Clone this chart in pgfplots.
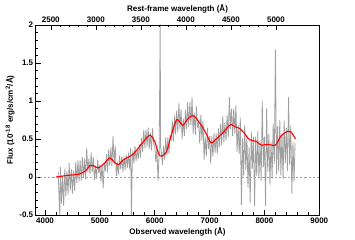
\documentclass[border=0pt]{standalone}
\usepackage{pgfplots}
\pgfplotsset{compat=1.18}
\usepackage{fontspec}
\setmainfont{Liberation Sans}
\definecolor{specgray}{RGB}{160,160,160}
\begin{document}
\begin{tikzpicture}[font=\fontsize{8}{9.6}\selectfont\bfseries]
\begin{axis}[name=main, scale only axis, width=283.6pt, height=190pt,
  xmin=3830, xmax=9000, ymin=-0.5, ymax=2,
  xtick={4000,5000,...,9000}, ytick={-0.5,0,0.5,1,1.5,2},
  minor x tick num=4, minor y tick num=4,
  xtick pos=bottom, ytick pos=left, tick align=inside,
  major tick length=5pt, minor tick length=2.5pt,
  every tick/.style={black, line width=0.5pt},
  axis line style={line width=0.7pt},
  /pgf/number format/assume math mode=true, /pgf/number format/1000 sep={},
  xlabel={Observed wavelength (Å)},
  ylabel={Flux (10\textsuperscript{-18} erg/s/cm\textsuperscript{2}/Å)},
  xlabel style={yshift=3pt}, ylabel style={yshift=-2pt},
  xticklabel style={yshift=1pt}, yticklabel style={xshift=1pt},
  clip=true]
\addplot[specgray, dash pattern=on 2.2pt off 2pt, line width=0.4pt] coordinates {(3830,0) (9000,0)};
\addplot[specgray, line width=0.8pt, line join=bevel] coordinates {
(4240,0.07) (4260,-0.35) (4270,-0.5) (4280,0.13) (4300,-0.35) (4320,0.01) (4340,-0.38) (4360,0.11) (4380,-0.25)
(4400,0.08) (4420,-0.23) (4440,0.19) (4460,-0.18) (4480,0.10)
(4500,-0.22) (4520,0.08) (4540,-0.18) (4560,0.20) (4580,-0.08)
(4600,0.22) (4620,-0.06) (4640,0.22) (4660,-0.05) (4680,0.26)
(4700,-0.01) (4720,0.24) (4740,-0.03) (4760,0.38) (4780,0.06)
(4800,0.24) (4820,0.03) (4840,0.32) (4860,0.06) (4880,0.26)
(4900,-0.04) (4920,0.15) (4940,-0.02) (4960,0.23) (4980,0.05)
(5000,0.16) (5020,-0.06) (5040,0.16) (5060,-0.15) (5080,0.19)
(5100,0.08) (5120,0.30) (5140,0.06) (5160,0.36) (5180,0.14)
(5200,0.39) (5220,0.14) (5240,0.54) (5260,0.17) (5280,0.41)
(5300,0.01) (5320,0.20) (5340,0.03) (5360,0.28) (5380,0.10)
(5400,0.27) (5420,0.07) (5440,0.27) (5460,0.09) (5480,0.29)
(5500,0.12) (5520,0.32) (5540,0.11) (5560,0.38) (5576,-0.5) (5590,0.2)
(5600,0.35) (5620,0.18) (5640,0.41) (5660,0.21) (5680,0.36)
(5700,0.24) (5720,0.43) (5740,0.26) (5760,0.51) (5780,0.33)
(5800,0.62) (5820,0.38) (5840,0.62) (5860,0.40) (5880,0.65)
(5900,0.37) (5920,0.58) (5940,0.35) (5960,0.64) (5980,0.43)
(6000,0.42) (6020,0.20) (6040,0.38) (6060,-0.05) (6080,0.30)
(6100,2.05) (6106,0.4) (6120,0.33) (6140,0.16) (6160,0.41) (6180,0.23)
(6200,0.52) (6220,0.28) (6240,0.52) (6260,0.30) (6280,0.55)
(6300,0.49) (6320,0.74) (6340,0.47) (6360,0.81) (6380,0.56)
(6400,0.87) (6420,0.59) (6440,0.97) (6460,0.63) (6480,0.89)
(6500,0.50) (6520,0.77) (6540,0.54) (6560,0.88) (6580,0.63)
(6600,0.98) (6620,0.66) (6640,0.98) (6660,0.68) (6680,1.05)
(6700,0.57) (6720,0.85) (6740,0.55) (6760,0.93) (6780,0.65)
(6800,0.72) (6820,0.44) (6840,0.82) (6860,0.48) (6880,0.74)
(6900,0.23) (6920,0.53) (6940,0.27) (6960,0.65) (6980,0.37)
(7000,0.54) (7020,0.18) (7040,0.54) (7060,0.27) (7080,0.58)
(7100,0.32) (7120,0.57) (7140,0.30) (7160,0.64) (7180,0.39)
(7200,0.70) (7220,0.42) (7240,0.80) (7260,0.46) (7280,0.72)
(7300,0.48) (7320,0.81) (7340,0.52) (7360,1.05) (7380,0.63)
(7400,0.90) (7420,0.54) (7440,0.90) (7460,0.57) (7480,0.94)
(7500,0.33) (7520,0.68) (7540,0.30) (7560,0.78) (7580,-0.37)
(7600,0.51) (7620,0.02) (7640,0.69) (7660,0.09) (7680,0.55)
(7700,-0.14) (7720,0.39) (7740,-0.34) (7760,0.60) (7780,0.11)
(7800,0.53) (7820,-0.38) (7840,0.53) (7860,0.01) (7880,0.60)
(7900,-0.02) (7920,0.48) (7940,-0.05) (7960,1.00) (7980,0.13)
(8000,0.53) (8020,-0.38) (8040,0.90) (8060,0.07) (8080,0.57)
(8100,-0.10) (8120,0.47) (8140,-0.02) (8160,0.70) (8180,0.17)
(8200,1.68) (8220,0.03) (8240,0.67) (8260,0.07) (8280,0.75)
(8300,0.02) (8320,0.58) (8340,-0.02) (8360,0.74) (8380,0.18)
(8400,0.64) (8420,0.08) (8440,1.05) (8460,0.16) (8480,0.68)
(8500,-0.22) (8520,0.46) (8540,-0.06) (8558,0.45)
};
\addplot[red, line width=1.1pt, smooth, tension=0.5] coordinates {
(4200,0.00) (4400,0.02) (4636,0.04) (4750,0.09) (4818,0.15) (4880,0.15)
(4970,0.12) (5080,0.18) (5180,0.25) (5260,0.20) (5333,0.16) (5420,0.22)
(5515,0.26) (5606,0.30) (5700,0.38) (5800,0.47) (5909,0.55) (6000,0.47)
(6090,0.28) (6212,0.33) (6300,0.55) (6394,0.75) (6460,0.72) (6515,0.68)
(6600,0.76) (6685,0.81) (6760,0.77) (6818,0.71) (6879,0.65) (6950,0.55)
(7030,0.45) (7121,0.50) (7242,0.58) (7382,0.69) (7460,0.66) (7545,0.64)
(7640,0.57) (7727,0.49) (7848,0.47) (7939,0.42) (8060,0.43) (8200,0.42)
(8303,0.54) (8424,0.60) (8500,0.58) (8564,0.50)
};
\end{axis}
\begin{axis}[scale only axis, width=283.6pt, height=190pt,
  xmin=2332.5, xmax=5481.1, ymin=-0.5, ymax=2,
  axis x line*=top, axis y line=none,
  xtick={2500,3000,...,5000}, minor x tick num=4,
  tick align=inside, major tick length=5pt, minor tick length=2.5pt,
  every tick/.style={black, line width=0.5pt},
  axis line style={line width=0.7pt},
  /pgf/number format/assume math mode=true, /pgf/number format/1000 sep={},
  xlabel={Rest-frame wavelength (Å)},
  xlabel style={yshift=-3pt}, xticklabel style={yshift=-1pt}]
\addplot[draw=none] coordinates {(3000,0)};
\end{axis}
\path ([shift={(-35.7pt,-25pt)}]main.south west) rectangle ([shift={(35.7pt,25pt)}]main.north east);
\end{tikzpicture}
\end{document}
